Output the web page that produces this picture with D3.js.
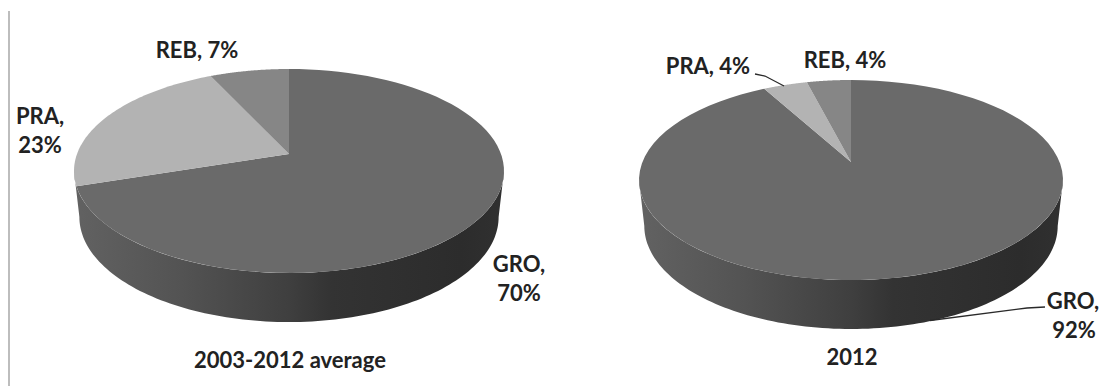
<!DOCTYPE html>
<html>
<head>
<meta charset="utf-8">
<script src="https://cdnjs.cloudflare.com/ajax/libs/d3/7.8.5/d3.min.js"></script>
<style>
  html, body { margin: 0; padding: 0; background: #fff; }
  text { font-family: Lato, "Open Sans", sans-serif; font-weight: 700; font-size: 22px; fill: #222; }
</style>
</head>
<body>
<svg id="chart" width="1101" height="386"></svg>
<script>
// Share of each fishing category, in percent
const categories = ["GRO", "PRA", "REB"];
const averageValues = [70, 23, 7];
const latestValues = [92, 4, 4];
const panelTitles = ["2003-2012 average", "2012"];

const sliceColors = d3.scaleOrdinal().domain(categories).range(["#6a6a6a", "#b3b3b3", "#868686"]);

// Each panel: pie frame in perspective plus its label placement
const panels = [
  {
    values: averageValues, title: panelTitles[0],
    apexX: 289, apexY: 154, top: 69, bottom: 273, halfWidth: 215,
    titlePos: [290, 368],
    labels: {
      GRO: { lines: [[519, 272], [519, 301]] },
      PRA: { lines: [[40, 124], [40, 153]] },
      REB: { lines: [[197, 58]] }
    },
    leaders: []
  },
  {
    values: latestValues, title: panelTitles[1],
    apexX: 851, apexY: 162, top: 80, bottom: 280, halfWidth: 212,
    titlePos: [852, 365],
    labels: {
      GRO: { lines: [[1073, 309], [1074, 338]] },
      PRA: { lines: [[708, 74]] },
      REB: { lines: [[845, 68]] }
    },
    leaders: [
      [[755, 74], [765, 76], [784, 86]],
      [[1045, 307], [1027, 308], [930, 320.5]]
    ]
  }
];

const svg = d3.select("#chart");
const defs = svg.append("defs");

// Wall shading runs from mid grey on the left to near black on the right
const wall = defs.append("linearGradient").attr("id", "wallShade");
[[0, "#626262"], [0.25, "#535353"], [0.5, "#3f3f3f"], [0.6, "#333333"], [0.9, "#2c2c2c"], [1, "#303030"]]
  .forEach(([o, c]) => wall.append("stop").attr("offset", o).attr("stop-color", c));

// Thin rule along the far left of the page
svg.append("line")
  .attr("x1", 9).attr("x2", 9).attr("y1", 11).attr("y2", 386)
  .attr("stroke", "#bdbdbd").attr("stroke-width", 2);

const pie = d3.pie().sort(null).value(d => d.value);
const curve = d3.line().x(d => d[0]).y(d => d[1]);

panels.forEach(p => {
  // Homography taking the unit circle onto the tilted disc, apex at the origin
  const up = p.apexY - p.top, down = p.bottom - p.apexY;
  const c = (up - down) / (up + down);
  const a = down * (1 + c);
  const midOffset = (p.top + p.bottom) / 2 - p.apexY;
  const vMid = midOffset / (a - midOffset * c);
  const d = p.halfWidth * (1 + c * vMid) / Math.sqrt(1 - vMid * vMid);
  const midY = (p.top + p.bottom) / 2;

  const rim = t => {
    const u = Math.sin(t), v = -Math.cos(t), w = 1 + c * v;
    return [p.apexX + d * u / w, p.apexY + a * v / w];
  };
  // Lower rim of the wall: slightly narrower than the top disc and pushed down
  const lowerRim = t => {
    const [x, y] = rim(t);
    return [p.apexX + (x - p.apexX) * 0.975, midY + 46 + (y - midY) * 1.03];
  };
  const sweep = (t0, t1, n) => d3.range(n + 1).map(i => t0 + (t1 - t0) * i / n);

  // Side wall along the front half of the disc, between its widest points
  const widest = Math.acos(-vMid);
  const front = sweep(widest, 2 * Math.PI - widest, 120);
  const wallPts = front.map(rim).concat(front.slice().reverse().map(lowerRim));
  svg.append("path")
    .attr("d", curve(wallPts) + "Z")
    .attr("fill", "url(#wallShade)");

  // Top face slices
  const rows = categories.map((name, i) => ({ name, value: p.values[i] }));
  svg.append("g").selectAll("path")
    .data(pie(rows))
    .join("path")
    .attr("d", s => curve([[p.apexX, p.apexY], ...sweep(s.startAngle, s.endAngle, 80).map(rim)]) + "Z")
    .attr("fill", s => sliceColors(s.data.name));

  // Leader lines from labels to slices
  svg.append("g").selectAll("path")
    .data(p.leaders)
    .join("path")
    .attr("d", curve)
    .attr("fill", "none")
    .attr("stroke", "#2a2a2a")
    .attr("stroke-width", 1.3);

  // Category labels, wrapped onto two lines where there is a second anchor
  rows.forEach(r => {
    const place = p.labels[r.name].lines;
    const parts = place.length === 2
      ? [`${r.name},`, `${r.value}%`]
      : [`${r.name}, ${r.value}%`];
    parts.forEach((txt, i) => {
      svg.append("text")
        .attr("x", place[i][0]).attr("y", place[i][1])
        .attr("text-anchor", "middle")
        .text(txt);
    });
  });

  svg.append("text")
    .attr("x", p.titlePos[0]).attr("y", p.titlePos[1])
    .attr("text-anchor", "middle")
    .text(p.title);
});
</script>
</body>
</html>
